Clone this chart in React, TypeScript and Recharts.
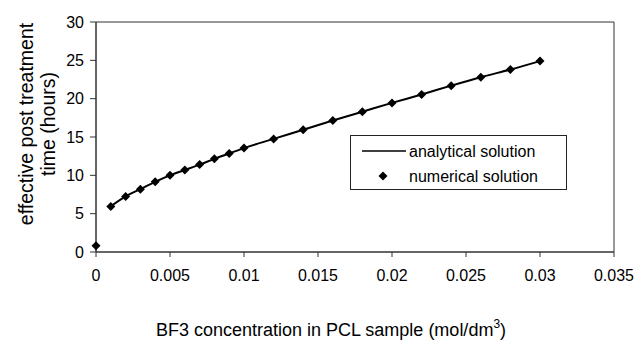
import React from "react";
import {
  ComposedChart,
  Line,
  Scatter,
  XAxis,
  YAxis,
  ReferenceArea,
} from "recharts";

// BF3 concentration (mol/dm3)
const numericalX = [
  0, 0.001, 0.002, 0.003, 0.004, 0.005, 0.006, 0.007, 0.008, 0.009, 0.01,
  0.012, 0.014, 0.016, 0.018, 0.02, 0.022, 0.024, 0.026, 0.028, 0.03,
];
// effective post treatment time (hours)
const numericalY = [
  0.8, 5.95, 7.25, 8.2, 9.15, 10.0, 10.7, 11.4, 12.15, 12.85, 13.55, 14.75,
  15.95, 17.15, 18.3, 19.45, 20.55, 21.7, 22.8, 23.8, 24.9,
];

const analyticalX = numericalX.slice(1);
const analyticalY = numericalY.slice(1);

const xTicks = [0, 0.005, 0.01, 0.015, 0.02, 0.025, 0.03, 0.035];
const yTicks = [0, 5, 10, 15, 20, 25, 30];

const numericalData = numericalX.map((x, i) => ({ x, y: numericalY[i] }));
const analyticalData = analyticalX.map((x, i) => ({ x, y: analyticalY[i] }));

const FONT = "'Liberation Sans', Arial, Helvetica, sans-serif";
const AXIS = "#333";

const DiamondDot = (props: any) => {
  const { cx, cy } = props;
  if (cx == null || cy == null) return null;
  const r = 4.5;
  return (
    <path
      d={`M${cx},${cy - r}L${cx + r},${cy}L${cx},${cy + r}L${cx - r},${cy}Z`}
      fill="#000"
    />
  );
};

// legend box drawn over the plot, like the Excel original
const LegendBox = () => (
  <div
    style={{
      position: "absolute",
      left: 350,
      top: 135,
      boxSizing: "border-box",
      width: 217,
      height: 55,
      border: "1px solid #222",
      background: "#fff",
      fontFamily: FONT,
      fontSize: 16,
      color: "#000",
    }}
  >
    <svg width={215} height={53} style={{ display: "block" }}>
      <line x1={11} y1={15} x2={55} y2={15} stroke="#000" strokeWidth={1.5} />
      <text x={58} y={21}>analytical solution</text>
      <path d="M32,35.5L36.5,40L32,44.5L27.5,40Z" fill="#000" />
      <text x={58} y={46}>numerical solution</text>
    </svg>
  </div>
);

const YLabel = () => (
  <g fontFamily={FONT} fontSize={19.5} fill="#000">
    <text transform="translate(33,124) rotate(-90)" textAnchor="middle">
      effective post treatment
    </text>
    <text transform="translate(54.5,124) rotate(-90)" textAnchor="middle">
      time (hours)
    </text>
  </g>
);

const XLabel = () => (
  <text x={331} y={336} textAnchor="middle" fontFamily={FONT} fontSize={18} fill="#000">
    BF3 concentration in PCL sample (mol/dm
    <tspan dy={-8} fontSize={12}>3</tspan>
    <tspan dy={8}>)</tspan>
  </text>
);

export default function App() {
  return (
    <div style={{ position: "fixed", left: 0, top: 0, width: 636, height: 343, background: "#fff" }}>
      <ComposedChart
        width={636}
        height={343}
        margin={{ top: 22, right: 22, bottom: 0, left: 0 }}
      >
        <XAxis
          type="number"
          dataKey="x"
          domain={[0, 0.035]}
          ticks={xTicks}
          height={91}
          stroke={AXIS}
          tickSize={5}
          tickMargin={13}
          tick={{ fill: "#000", fontSize: 16, fontFamily: FONT }}
          label={<XLabel />}
        />
        <YAxis
          type="number"
          domain={[0, 30]}
          ticks={yTicks}
          width={96}
          stroke={AXIS}
          tickSize={6}
          tickMargin={6}
          tick={{ fill: "#000", fontSize: 16, fontFamily: FONT }}
          label={<YLabel />}
        />
        <ReferenceArea
          x1={0}
          x2={0.035}
          y1={0}
          y2={30}
          fill="none"
          stroke={AXIS}
          strokeWidth={1}
          strokeOpacity={1}
        />
        <Line
          data={analyticalData}
          dataKey="y"
          type="monotone"
          stroke="#000"
          strokeWidth={2}
          dot={false}
          activeDot={false}
          isAnimationActive={false}
        />
        <Scatter
          data={numericalData}
          dataKey="y"
          shape={<DiamondDot />}
          isAnimationActive={false}
        />
      </ComposedChart>
      <LegendBox />
    </div>
  );
}
